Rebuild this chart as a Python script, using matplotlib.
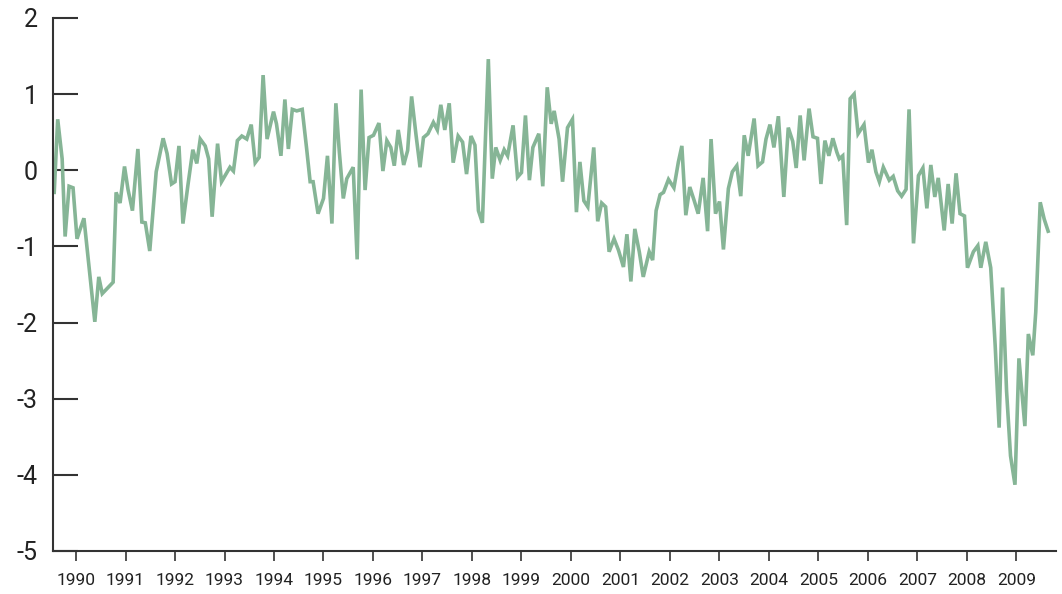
import matplotlib
matplotlib.use("Agg")
import matplotlib.pyplot as plt

# Dados (ano decimal, valor)
years = [
    1989.56, 1989.63, 1989.72, 1989.78, 1989.86, 1989.94, 1990.02, 1990.08, 1990.16, 1990.38,
    1990.46, 1990.53, 1990.75, 1990.81, 1990.89, 1990.98, 1991.05, 1991.14, 1991.25, 1991.33,
    1991.40, 1991.49, 1991.56, 1991.62, 1991.76, 1991.84, 1991.93, 1992.00, 1992.08, 1992.16,
    1992.26, 1992.36, 1992.44, 1992.51, 1992.61, 1992.68, 1992.75, 1992.86, 1992.94, 1993.11,
    1993.18, 1993.26, 1993.35, 1993.45, 1993.54, 1993.62, 1993.70, 1993.78, 1993.86, 1993.99,
    1994.05, 1994.14, 1994.22, 1994.29, 1994.37, 1994.46, 1994.57, 1994.66, 1994.73, 1994.79,
    1994.89, 1995.00, 1995.08, 1995.17, 1995.25, 1995.32, 1995.40, 1995.47, 1995.60, 1995.68,
    1995.76, 1995.84, 1995.92, 1996.01, 1996.12, 1996.20, 1996.28, 1996.36, 1996.43, 1996.51,
    1996.62, 1996.70, 1996.78, 1996.87, 1996.95, 1997.02, 1997.11, 1997.22, 1997.30, 1997.37,
    1997.45, 1997.54, 1997.62, 1997.72, 1997.81, 1997.89, 1997.98, 1998.06, 1998.13, 1998.21,
    1998.33, 1998.41, 1998.48, 1998.57, 1998.65, 1998.72, 1998.83, 1998.92, 1999.00, 1999.08,
    1999.16, 1999.23, 1999.35, 1999.43, 1999.52, 1999.60, 1999.66, 1999.76, 1999.83, 1999.93,
    2000.03, 2000.11, 2000.18, 2000.26, 2000.34, 2000.46, 2000.54, 2000.62, 2000.70, 2000.77,
    2000.87, 2000.96, 2001.06, 2001.13, 2001.21, 2001.29, 2001.38, 2001.46, 2001.58, 2001.65,
    2001.72, 2001.80, 2001.87, 2001.97, 2002.08, 2002.17, 2002.24, 2002.32, 2002.40, 2002.49,
    2002.57, 2002.67, 2002.76, 2002.83, 2002.92, 2003.00, 2003.08, 2003.18, 2003.26, 2003.35,
    2003.43, 2003.50, 2003.58, 2003.70, 2003.78, 2003.87, 2003.94, 2004.02, 2004.10, 2004.19,
    2004.30, 2004.39, 2004.48, 2004.55, 2004.63, 2004.71, 2004.81, 2004.89, 2004.98, 2005.05,
    2005.13, 2005.21, 2005.29, 2005.37, 2005.42, 2005.49, 2005.57, 2005.64, 2005.72, 2005.80,
    2005.92, 2006.01, 2006.08, 2006.16, 2006.23, 2006.31, 2006.43, 2006.51, 2006.60, 2006.68,
    2006.77, 2006.83, 2006.92, 2007.02, 2007.11, 2007.19, 2007.27, 2007.35, 2007.42, 2007.54,
    2007.62, 2007.70, 2007.78, 2007.86, 2007.95, 2008.01, 2008.13, 2008.22, 2008.28, 2008.38,
    2008.48, 2008.57, 2008.65, 2008.72, 2008.80, 2008.88, 2008.97, 2009.05, 2009.17, 2009.24,
    2009.33, 2009.39, 2009.48, 2009.56, 2009.64,
]
values = [
    -0.29, 0.67, 0.15, -0.87, -0.21, -0.23, -0.90, -0.78, -0.63, -1.99,
    -1.40, -1.62, -1.47, -0.29, -0.43, 0.05, -0.25, -0.53, 0.28, -0.68,
    -0.69, -1.06, -0.50, -0.02, 0.42, 0.22, -0.18, -0.15, 0.32, -0.70,
    -0.20, 0.27, 0.09, 0.41, 0.32, 0.15, -0.61, 0.35, -0.15, 0.04,
    -0.01, 0.39, 0.45, 0.41, 0.60, 0.10, 0.17, 1.25, 0.41, 0.77,
    0.61, 0.19, 0.93, 0.28, 0.80, 0.78, 0.80, 0.28, -0.15, -0.15,
    -0.57, -0.37, 0.19, -0.70, 0.88, 0.24, -0.37, -0.11, 0.04, -1.17,
    1.06, -0.26, 0.43, 0.46, 0.62, -0.01, 0.39, 0.30, 0.06, 0.53,
    0.07, 0.26, 0.97, 0.46, 0.04, 0.43, 0.48, 0.63, 0.53, 0.86,
    0.53, 0.88, 0.10, 0.45, 0.37, -0.05, 0.45, 0.33, -0.53, -0.69,
    1.46, -0.11, 0.30, 0.13, 0.27, 0.19, 0.59, -0.09, -0.03, 0.72,
    -0.13, 0.30, 0.48, -0.21, 1.09, 0.61, 0.78, 0.41, -0.15, 0.56,
    0.67, -0.55, 0.11, -0.40, -0.48, 0.30, -0.67, -0.43, -0.48, -1.07,
    -0.90, -1.05, -1.27, -0.84, -1.46, -0.77, -1.07, -1.40, -1.07, -1.18,
    -0.53, -0.32, -0.29, -0.12, -0.23, 0.11, 0.32, -0.59, -0.22, -0.40,
    -0.57, -0.10, -0.80, 0.41, -0.57, -0.41, -1.04, -0.24, -0.02, 0.06,
    -0.34, 0.46, 0.19, 0.68, 0.06, 0.11, 0.41, 0.60, 0.30, 0.71,
    -0.35, 0.56, 0.38, 0.03, 0.72, 0.13, 0.81, 0.44, 0.42, -0.18,
    0.39, 0.19, 0.42, 0.24, 0.15, 0.19, -0.72, 0.94, 1.00, 0.48,
    0.60, 0.10, 0.27, -0.02, -0.15, 0.04, -0.13, -0.08, -0.27, -0.34,
    -0.25, 0.80, -0.96, -0.07, 0.03, -0.50, 0.07, -0.35, -0.10, -0.79,
    -0.18, -0.70, -0.04, -0.57, -0.60, -1.28, -1.07, -0.99, -1.28, -0.94,
    -1.28, -2.30, -3.38, -1.54, -2.90, -3.75, -4.13, -2.47, -3.36, -2.15,
    -2.43, -1.86, -0.42, -0.64, -0.80,
]
year_ticks = list(range(1990, 2010))
y_ticks = [-5, -4, -3, -2, -1, 0, 1, 2]

plt.rcParams['font.family'] = ['Roboto', 'DejaVu Sans']

fig = plt.figure(figsize=(10.62, 5.94), dpi=100)
ax = fig.add_axes([0.0499, 0.0724, 0.9445, 0.8973])

ax.plot(years, values, color='#86b596', linewidth=2.6, solid_joinstyle='miter')

ax.set_xlim(1989.535, 2009.80)
ax.set_ylim(-5, 2)

ax.set_yticks(y_ticks)
ax.set_yticklabels([str(v) for v in y_ticks])
ax.set_xticks(year_ticks)
ax.set_xticklabels([str(y) for y in year_ticks])

ax.spines['top'].set_visible(False)
ax.spines['right'].set_visible(False)
for s in ('left', 'bottom'):
    ax.spines[s].set_color('#333333')
    ax.spines[s].set_linewidth(1.5)

ax.tick_params(axis='y', direction='in', length=18, width=1.5, color='#333333',
               labelsize=18, labelcolor='#222222', pad=11)
ax.tick_params(axis='x', direction='out', length=7, width=1.2, color='#333333',
               labelsize=12.5, labelcolor='#222222', pad=9)

fig.savefig('out.png', dpi=100)
